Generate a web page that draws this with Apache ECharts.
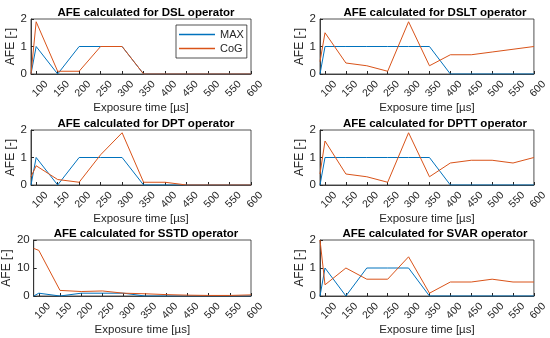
<!DOCTYPE html>
<html><head><meta charset="utf-8">
<script src="https://cdn.jsdelivr.net/npm/echarts@6/dist/echarts.min.js"></script>
<style>html,body{margin:0;padding:0;background:#fff}#c{width:550px;height:338px}</style>
</head><body><div id="c"></div>
<script>
var exposure = [88, 100, 150, 200, 250, 300, 350, 400, 450, 500, 550, 600];
var xTicks = [100, 150, 200, 250, 300, 350, 400, 450, 500, 550, 600];
var operators = ['DSL', 'DSLT', 'DPT', 'DPTT', 'SSTD', 'SVAR'];
var maxDSL  = [0, 1, 0, 1, 1, 1, 0, 0, 0, 0, 0, 0];
var cogDSL  = [0, 1.9, 0.1, 0.1, 1, 1, 0, 0, 0, 0, 0, 0];
var maxDSLT = [0, 1, 1, 1, 1, 1, 1, 0, 0, 0, 0, 0];
var cogDSLT = [0.45, 1.5, 0.4, 0.3, 0.1, 1.9, 0.3, 0.7, 0.7, 0.8, 0.9, 1.0];
var maxDPT  = [0, 1, 0, 1, 1, 1, 0, 0, 0, 0, 0, 0];
var cogDPT  = [0.3, 0.7, 0.2, 0.1, 1.1, 1.9, 0.1, 0.1, 0, 0, 0, 0];
var maxDPTT = [0, 1, 1, 1, 1, 1, 1, 0, 0, 0, 0, 0];
var cogDPTT = [0.4, 1.6, 0.4, 0.3, 0.1, 1.9, 0.3, 0.8, 0.9, 0.9, 0.8, 1.0];
var maxSSTD = [0, 1, 0, 1, 1, 1, 0, 0, 0, 0, 0, 0];
var cogSSTD = [17, 16.3, 2, 1.6, 1.8, 1, 0.8, 0.5, 0.3, 0.2, 0.2, 0.4];
var maxSVAR = [0, 1, 0, 1, 1, 1, 0, 0, 0, 0, 0, 0];
var cogSVAR = [2, 0.4, 1, 0.6, 0.6, 1.4, 0.1, 0.5, 0.5, 0.6, 0.5, 0.5];
var yMax = [2, 2, 2, 2, 20, 2];
var yInterval = [1, 1, 1, 1, 10, 1];

var maxData = [maxDSL, maxDSLT, maxDPT, maxDPTT, maxSSTD, maxSVAR];
var cogData = [cogDSL, cogDSLT, cogDPT, cogDPTT, cogSSTD, cogSVAR];

var lefts = [31, 320, 31, 320, 31, 320];
var tops = [19, 19, 130, 130, 240, 240];
var heights = [55, 55, 55, 55, 56, 56];
var W = 220;
var txt = '#262626';
var font = 'Arial, "Liberation Sans", Helvetica, sans-serif';

var grids = [], xAxes = [], yAxes = [], series = [], titles = [];
function pairs(ys){ return exposure.map(function(x,i){ return [x, ys[i]]; }); }
for (var i = 0; i < 6; i++) {
  grids.push({left: lefts[i], top: tops[i], width: W, height: heights[i], show: true,
    borderColor: txt, borderWidth: 0.8, backgroundColor: '#fff', containLabel: false});
  xAxes.push({type: 'value', gridIndex: i, min: 88, max: 600,
    axisLine: {show: true, lineStyle: {color: txt, width: 0.8}},
    axisTick: {show: true, inside: true, length: 3, customValues: xTicks, lineStyle: {color: txt}},
    axisLabel: {customValues: xTicks, rotate: 45, fontSize: 10.5, color: txt, fontFamily: font,
      margin: 11, align: 'center', verticalAlign: 'top'},
    splitLine: {show: false},
    name: 'Exposure time [µs]', nameLocation: 'middle', nameGap: 27,
    nameTextStyle: {fontSize: 11.5, color: txt, fontFamily: font}});
  yAxes.push({type: 'value', gridIndex: i, min: 0, max: yMax[i], interval: yInterval[i],
    axisLine: {show: true, lineStyle: {color: txt, width: 0.8}},
    axisTick: {show: true, inside: true, length: 3, lineStyle: {color: txt}},
    axisLabel: {fontSize: 11.5, color: txt, fontFamily: font, margin: 4},
    splitLine: {show: false},
    name: 'AFE [-]', nameLocation: 'middle', nameGap: i === 4 ? 16 : 12,
    nameTextStyle: {fontSize: 12, color: txt, fontFamily: font}});
  series.push({name: 'MAX', type: 'line', xAxisIndex: i, yAxisIndex: i, data: pairs(maxData[i]),
    symbol: 'none', lineStyle: {color: '#0072BD', width: 1}, itemStyle: {color: '#0072BD'}, animation: false});
  series.push({name: 'CoG', type: 'line', xAxisIndex: i, yAxisIndex: i, data: pairs(cogData[i]),
    symbol: 'none', lineStyle: {color: '#D95319', width: 1}, itemStyle: {color: '#D95319'}, animation: false});
  titles.push({text: 'AFE calculated for ' + operators[i] + ' operator',
    left: lefts[i] + W / 2, top: tops[i] - 17, textAlign: 'center',
    textStyle: {fontSize: 11.5, fontWeight: 'bold', color: '#000', fontFamily: font}});
}

var chart = echarts.init(document.getElementById('c'), null, {renderer: 'canvas'});
chart.setOption({
  animation: false,
  title: titles,
  grid: grids, xAxis: xAxes, yAxis: yAxes, series: series,
  legend: {data: ['MAX', 'CoG'], orient: 'vertical', left: 176, top: 25,
    backgroundColor: '#fff', borderColor: txt, borderWidth: 0.8, padding: [4, 3, 4, 3],
    itemGap: 3, itemWidth: 36, itemHeight: 1.5, icon: 'rect', align: 'left',
    textStyle: {fontSize: 11, color: txt, fontFamily: font}}
});
</script></body></html>
